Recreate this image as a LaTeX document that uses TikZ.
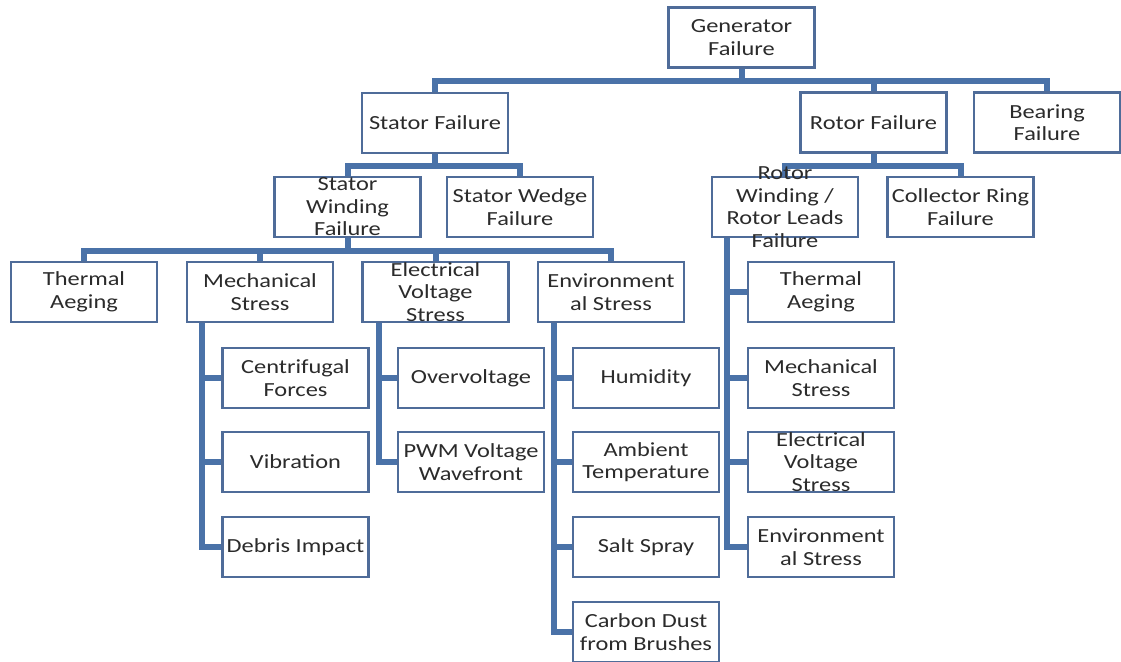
\documentclass[tikz,border=0pt]{standalone}
\usepackage{fontspec}
\setmainfont{Carlito}[FakeStretch=1.22]
\usetikzlibrary{calc,backgrounds}
\definecolor{linkblue}{HTML}{4A72A8}
\definecolor{framecol}{HTML}{4F6C99}
\definecolor{inkgray}{HTML}{2B2B2B}

% a framed box of fixed size with its caption centred on it
\newcommand\failbox[3]{%
  \node[box] (#1) at (#2) {};
  \node[lbl] at (#1.center) {#3};}

\begin{document}
\begin{tikzpicture}[x=1pt,y=-1pt,
  box/.style={draw=framecol, line width=2.2pt, fill=white,
    minimum width=146pt, minimum height=60pt, inner sep=0pt},
  lbl/.style={text=inkgray, font=\fontsize{20}{22.5}\selectfont,
    align=center, inner sep=0pt},
  link/.style={draw=linkblue, line width=6pt}]
\useasboundingbox (0,0) rectangle (1121,661);

% top levels
\failbox{gen}{741.5,37.5}{Generator\\Failure}
\failbox{stator}{435,123}{Stator Failure}
\failbox{rotor}{873.5,122.5}{Rotor Failure}
\failbox{bearing}{1047,122.5}{Bearing\\Failure}

% stator and rotor components
\failbox{swind}{347.5,207}{Stator\\Winding\\Failure}
\failbox{swedge}{520,207}{Stator Wedge\\Failure}
\failbox{rwind}{785,207}{Rotor\\Winding /\\Rotor Leads\\Failure}
\failbox{coll}{960.5,207}{Collector Ring\\Failure}

% stator winding stresses
\failbox{therm}{84,292}{Thermal\\Aeging}
\failbox{mech}{260,292}{Mechanical\\Stress}
\failbox{elec}{435.5,292}{Electrical\\Voltage\\Stress}
\failbox{env}{611,292}{Environment\\al Stress}

% mechanical causes
\failbox{centr}{295.5,378}{Centrifugal\\Forces}
\failbox{vib}{295.5,462}{Vibration}
\failbox{debris}{295.5,547}{Debris Impact}

% electrical causes
\failbox{over}{471,378}{Overvoltage}
\failbox{pwm}{471,462}{PWM Voltage\\Wavefront}

% environmental causes
\failbox{hum}{646,378}{Humidity}
\failbox{amb}{646,462}{Ambient\\Temperature}
\failbox{salt}{646,547}{Salt Spray}
\failbox{carbon}{646,632}{Carbon Dust\\from Brushes}

% rotor winding stresses
\failbox{rtherm}{821,292}{Thermal\\Aeging}
\failbox{rmech}{821,378}{Mechanical\\Stress}
\failbox{relec}{821,462}{Electrical\\Voltage\\Stress}
\failbox{renv}{821,547}{Environment\\al Stress}

\begin{pgfonlayer}{background}
  % generator bus
  \coordinate (j1) at ($(gen.south)+(0,12)$);
  \draw[link] (gen.south) -- (j1);
  \draw[link] (stator.north) |- (j1) -| (bearing.north);
  \draw[link] (rotor.north) -- (rotor.north |- j1);

  % stator bus
  \coordinate (j2) at ($(stator.south)+(0,12)$);
  \draw[link] (stator.south) -- (j2);
  \draw[link] (swind.north) |- (j2) -| (swedge.north);

  % rotor bus
  \coordinate (j3) at ($(rotor.south)+(0,12)$);
  \draw[link] (rotor.south) -- (j3);
  \draw[link] (rwind.north) |- (j3) -| (coll.north);

  % stator winding bus
  \coordinate (j4) at ($(swind.south)+(0,13)$);
  \draw[link] (swind.south) -- (j4);
  \draw[link] (therm.north) |- (j4) -| (env.north);
  \draw[link] (mech.north) -- (mech.north |- j4);
  \draw[link] (elec.north) -- (elec.north |- j4);

  % mechanical spine
  \coordinate (s1) at ($(mech.south west)+(16,0)$);
  \draw[link] (s1) |- (debris.west);
  \draw[link] (s1 |- centr.west) -- (centr.west);
  \draw[link] (s1 |- vib.west) -- (vib.west);

  % electrical spine
  \coordinate (s2) at ($(elec.south west)+(18,0)$);
  \draw[link] (s2) |- (pwm.west);
  \draw[link] (s2 |- over.west) -- (over.west);

  % environmental spine
  \coordinate (s3) at ($(env.south west)+(17,0)$);
  \draw[link] (s3) |- (carbon.west);
  \draw[link] (s3 |- hum.west) -- (hum.west);
  \draw[link] (s3 |- amb.west) -- (amb.west);
  \draw[link] (s3 |- salt.west) -- (salt.west);

  % rotor winding spine
  \coordinate (s4) at ($(rwind.south west)+(16,0)$);
  \draw[link] (s4) |- (renv.west);
  \draw[link] (s4 |- rtherm.west) -- (rtherm.west);
  \draw[link] (s4 |- rmech.west) -- (rmech.west);
  \draw[link] (s4 |- relec.west) -- (relec.west);
\end{pgfonlayer}
\end{tikzpicture}
\end{document}
